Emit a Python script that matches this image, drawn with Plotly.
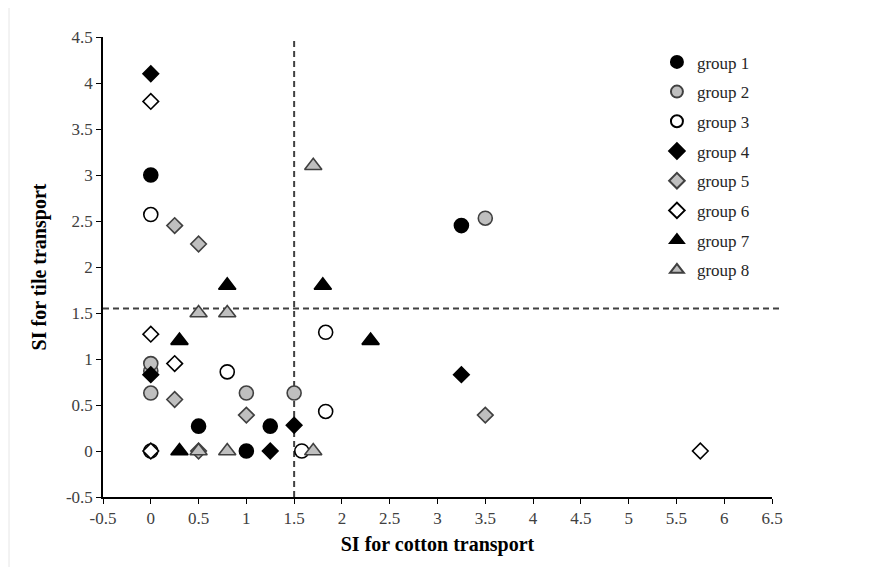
import plotly.graph_objects as go

# ---- data ----
g1_x = [0, 0.5, 1, 1.25, 3.25]
g1_y = [3.0, 0.27, 0, 0.27, 2.45]
g2_x = [0, 0, 0, 1, 1.5, 3.5]
g2_y = [0.87, 0.95, 0.63, 0.63, 0.63, 2.53]
g3_x = [0, 0, 0.8, 1.58, 1.83, 1.83]
g3_y = [2.57, 0, 0.86, 0, 1.29, 0.43]
g4_x = [0, 0, 1.25, 1.5, 3.25]
g4_y = [4.1, 0.83, 0, 0.28, 0.83]
g5_x = [0.25, 0.5, 0.25, 1, 0.5, 3.5]
g5_y = [2.45, 2.25, 0.56, 0.39, 0, 0.39]
g6_x = [0, 0, 0.25, 0, 5.75]
g6_y = [3.8, 1.27, 0.95, 0, 0]
g7_x = [0.8, 0.3, 0.3, 1.8, 2.3]
g7_y = [1.8, 1.2, 0, 1.8, 1.2]
g8_x = [0.5, 0.8, 1.7, 0.5, 0.8, 1.7]
g8_y = [1.5, 1.5, 3.1, 0, 0, 0]

group_names = ["group 1", "group 2", "group 3", "group 4",
               "group 5", "group 6", "group 7", "group 8"]

x_ticks = [-0.5, 0, 0.5, 1, 1.5, 2, 2.5, 3, 3.5, 4, 4.5, 5, 5.5, 6, 6.5]
x_tick_labels = ["-0.5", "0", "0.5", "1", "1.5", "2", "2.5", "3", "3.5",
                 "4", "4.5", "5", "5.5", "6", "6.5"]
y_ticks = [-0.5, 0, 0.5, 1, 1.5, 2, 2.5, 3, 3.5, 4, 4.5]
y_tick_labels = ["-0.5", "0", "0.5", "1", "1.5", "2", "2.5", "3", "3.5", "4", "4.5"]

x_threshold = 1.5
y_threshold = 1.55

# ---- styles ----
BLACK = "#000000"
GRAY = "#bfbfbf"
WHITE = "#ffffff"
series = [
    (g1_x, g1_y, "circle", BLACK, BLACK, 14),
    (g2_x, g2_y, "circle", GRAY, "#404040", 14),
    (g3_x, g3_y, "circle", WHITE, BLACK, 14),
    (g4_x, g4_y, "diamond", BLACK, BLACK, 12),
    (g5_x, g5_y, "diamond", GRAY, "#404040", 12),
    (g6_x, g6_y, "diamond", WHITE, BLACK, 12),
    (g7_x, g7_y, "triangle-up", BLACK, BLACK, 15),
    (g8_x, g8_y, "triangle-up", GRAY, "#404040", 15),
]

fig = go.Figure()
for name, (xs, ys, sym, fill, line, size) in zip(group_names, series):
    fig.add_trace(go.Scatter(
        x=xs, y=ys, mode="markers", name=name, legendgroup=name,
        marker=dict(symbol=sym, color=fill, size=size,
                    line=dict(color=line, width=1.6)),
        cliponaxis=False,
    ))

FONT = "Liberation Serif, Times New Roman, serif"

fig.update_layout(
    width=881, height=567,
    margin=dict(l=95, r=117, t=29, b=78),
    paper_bgcolor="white", plot_bgcolor="white",
    font=dict(family=FONT, size=17, color="#404040"),
    showlegend=True,
    legend=dict(
        x=0.828, y=0.984, xanchor="left", yanchor="top",
        bgcolor="rgba(0,0,0,0)", borderwidth=0,
        font=dict(family=FONT, size=17, color="#262626"),
        tracegroupgap=4.6, itemsizing="constant",
    ),
    xaxis=dict(
        range=[-0.5, 6.5], tickvals=x_ticks, ticktext=x_tick_labels,
        showgrid=False, zeroline=False,
        showline=True, linecolor=BLACK, linewidth=1.5,
        ticks="outside", ticklen=5, tickcolor=BLACK, tickwidth=1.2,
        tickfont=dict(family=FONT, size=17, color="#404040"),
        title=dict(text="<b>SI for cotton transport</b>", standoff=10,
                   font=dict(family=FONT, size=20, color=BLACK)),
    ),
    yaxis=dict(
        range=[-0.5, 4.5], tickvals=y_ticks, ticktext=y_tick_labels,
        showgrid=False, zeroline=False,
        showline=True, linecolor=BLACK, linewidth=1.5,
        ticks="outside", ticklen=5, tickcolor=BLACK, tickwidth=1.2,
        tickfont=dict(family=FONT, size=17, color="#404040"),
        title=dict(text="<b>SI for tile transport</b>", standoff=14,
                   font=dict(family=FONT, size=20, color=BLACK)),
    ),
    shapes=[
        dict(type="line", xref="x", yref="y",
             x0=x_threshold, x1=x_threshold, y0=-0.5, y1=4.5,
             line=dict(color="#404040", width=2, dash="6px,4px"), layer="below"),
        dict(type="line", xref="paper", yref="y",
             x0=0, x1=1.012, y0=y_threshold, y1=y_threshold,
             line=dict(color="#404040", width=2, dash="6px,4px"), layer="below"),
        dict(type="line", xref="paper", yref="paper",
             x0=-0.1405, x1=-0.1405, y0=-0.2, y1=1.1,
             line=dict(color="#e6e6e6", width=1)),
    ],
)

fig.write_html("out.html")
